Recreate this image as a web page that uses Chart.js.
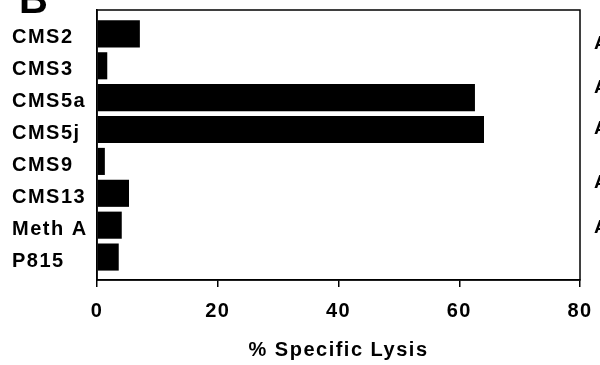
<!DOCTYPE html>
<html>
<head>
<meta charset="utf-8">
<script src="https://cdn.jsdelivr.net/npm/chart.js@4"></script>
<style>
  html, body { margin: 0; padding: 0; background: #fff; overflow: hidden; }
  #wrap { position: relative; width: 600px; height: 365px; }
  #panel { position: absolute; left: 19px; top: -21px; font: bold 40px "Liberation Sans", Arial, sans-serif; line-height: 1; color: #000; }
  #side { position: absolute; left: 594px; top: 0; width: 6px; height: 365px; overflow: hidden;
          font: bold 19px "Liberation Sans", Arial, sans-serif; color: #000; }
  #side span { position: absolute; left: 0; }
</style>
</head>
<body>
<div id="wrap">
  <canvas id="lysisChart" width="600" height="365"></canvas>
  <div id="panel">B</div>
  <div id="side">
    <span style="top:32px">A</span>
    <span style="top:76px">A</span>
    <span style="top:117px">A</span>
    <span style="top:171px">A</span>
    <span style="top:216px">A</span>
  </div>
</div>
<script>
const targets = ["CMS2", "CMS3", "CMS5a", "CMS5j", "CMS9", "CMS13", "Meth A", "P815"];
const lysis = [7.1, 1.7, 62.6, 64.1, 1.3, 5.3, 4.1, 3.6];
const xTicks = [0, 20, 40, 60, 80];

const font = { family: "'Liberation Sans', Arial, sans-serif", size: 20, weight: "bold" };

// bars sit on a linear index axis so the top/bottom gaps match the figure
const points = lysis.map((v, i) => ({ x: v, y: i }));

const frame = {
  id: "frame",
  beforeDraw(chart) {
    chart.ctx.letterSpacing = "1.5px";
  },
  afterDraw(chart) {
    const { ctx, chartArea: a } = chart;
    ctx.save();
    ctx.strokeStyle = "#000";
    ctx.lineWidth = 1.5;
    ctx.strokeRect(a.left, a.top, a.right - a.left, a.bottom - a.top);
    ctx.restore();
  }
};

new Chart(document.getElementById("lysisChart"), {
  type: "bar",
  data: {
    datasets: [{
      data: points,
      backgroundColor: "#000",
      borderWidth: 0,
      barPercentage: 0.85,
      categoryPercentage: 1,
    }],
  },
  options: {
    indexAxis: "y",
    responsive: false,
    animation: false,
    layout: { padding: { top: 10, right: 20, left: 12, bottom: 0 } },
    plugins: { legend: { display: false }, tooltip: { enabled: false } },
    scales: {
      x: {
        type: "linear",
        min: 0,
        max: 80,
        afterBuildTicks: scale => { scale.ticks = xTicks.map(v => ({ value: v })); },
        afterFit: scale => {
          scale.height = 85;
          scale.paddingLeft = 0;
          scale.paddingRight = 0;
        },
        grid: { drawOnChartArea: false, drawTicks: true, tickLength: 7, color: "#000", lineWidth: 1.5 },
        border: { color: "#000", width: 1.5 },
        ticks: { color: "#000", font: font, padding: 12, maxRotation: 0 },
        title: {
          display: true,
          text: "% Specific Lysis",
          color: "#000",
          font: font,
          padding: { top: 0, bottom: 3 },
        },
      },
      y: {
        type: "linear",
        reverse: true,
        offset: false,
        min: -0.75,
        max: 7.72,
        afterBuildTicks: scale => { scale.ticks = targets.map((t, i) => ({ value: i })); },
        afterFit: scale => {
          scale.width = 85;
          scale.paddingTop = 0;
          scale.paddingBottom = 0;
        },
        grid: { display: false, offset: false },
        border: { color: "#000", width: 1.5 },
        ticks: {
          color: "#000",
          font: font,
          crossAlign: "far",
          labelOffset: 4,
          callback: v => targets[v],
        },
      },
    },
  },
  plugins: [frame],
});
</script>
</body>
</html>
